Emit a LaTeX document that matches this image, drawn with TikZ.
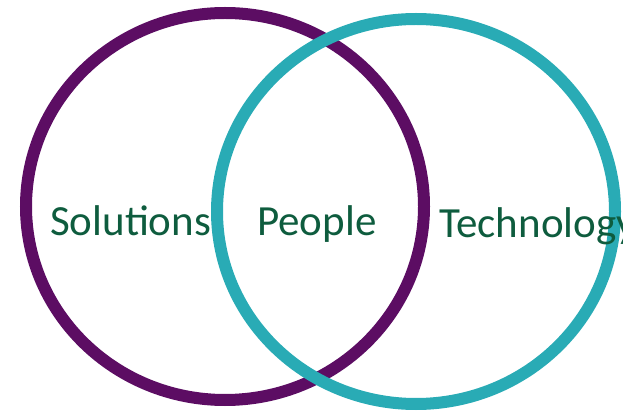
\documentclass[tikz,border=0pt]{standalone}
\usepackage{fontspec}
\setmainfont{Carlito}
\definecolor{vpurple}{HTML}{5C0D63}
\definecolor{vteal}{HTML}{29ABB5}
\definecolor{vgreen}{HTML}{0E5C3E}
\begin{document}
\begin{tikzpicture}[x=1pt,y=-1pt,
  ring/.style={line width=12pt},
  lbl/.style={inner sep=0pt,anchor=base west,text=vgreen,font=\fontsize{43}{50}\selectfont}]
\useasboundingbox (0,0) rectangle (623,411);
\clip (0,0) rectangle (623,411);
\draw[ring,vpurple] (225,206.5) ellipse [x radius=199, y radius=193.5];
\draw[ring,vteal] (416,211.5) ellipse [x radius=199, y radius=192.5];
\node[lbl] (sol) at (50,236) {Solutions};
\node[lbl] (peo) at (257,236) {People};
\node[lbl] (tec) at (439,238) {Technology};
\end{tikzpicture}
\end{document}
